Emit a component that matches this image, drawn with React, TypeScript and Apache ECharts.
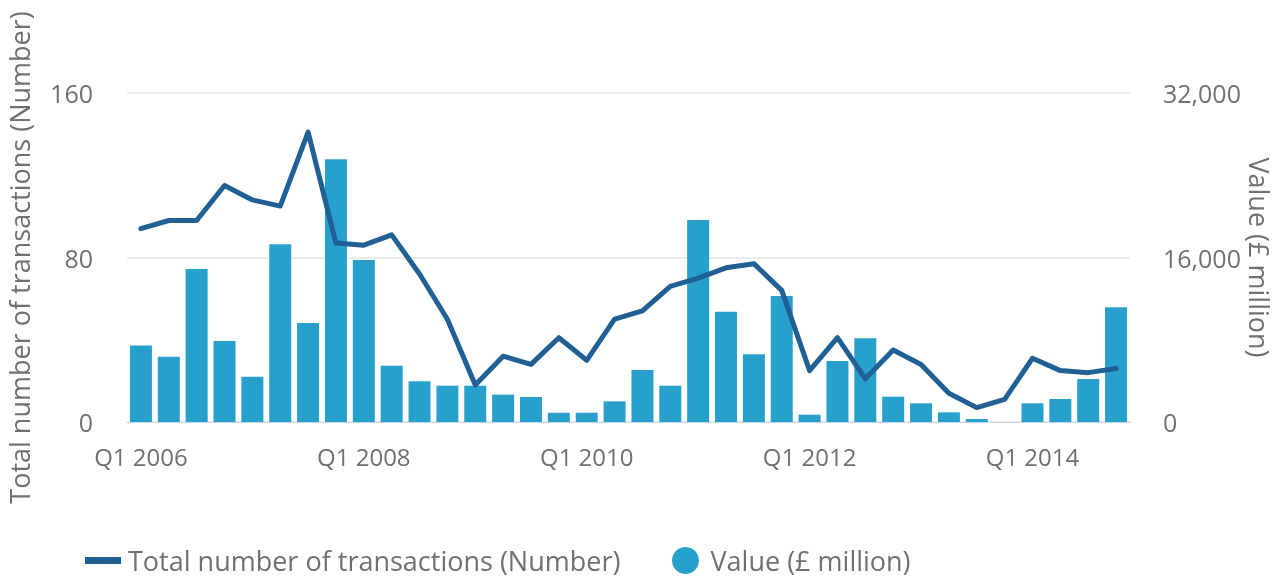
import React, { useEffect, useRef } from "react";
import * as echarts from "echarts";

const categories = [
  "Q1 2006", "Q2 2006", "Q3 2006", "Q4 2006",
  "Q1 2007", "Q2 2007", "Q3 2007", "Q4 2007",
  "Q1 2008", "Q2 2008", "Q3 2008", "Q4 2008",
  "Q1 2009", "Q2 2009", "Q3 2009", "Q4 2009",
  "Q1 2010", "Q2 2010", "Q3 2010", "Q4 2010",
  "Q1 2011", "Q2 2011", "Q3 2011", "Q4 2011",
  "Q1 2012", "Q2 2012", "Q3 2012", "Q4 2012",
  "Q1 2013", "Q2 2013", "Q3 2013", "Q4 2013",
  "Q1 2014", "Q2 2014", "Q3 2014", "Q4 2014",
];

// Total number of transactions (left axis)
const transactions = [
  94, 98, 98, 115, 108, 105, 141, 87,
  86, 91, 72, 50, 18, 32, 28, 41,
  30, 50, 54, 66, 70, 75, 77, 64,
  25, 41, 21, 35, 28, 14, 7, 11,
  31, 25, 24, 26,
];

// Value (£ million) (right axis)
const values = [
  7430, 6350, 14880, 7880, 4410, 17280, 9630, 25550,
  15760, 5480, 3960, 3530, 3530, 2660, 2430, 900,
  900, 2010, 5060, 3530, 19650, 10730, 6580, 12250,
  710, 5930, 8140, 2460, 1820, 940, 290, 0,
  1820, 2240, 4180, 11150,
];

const leftTicks = { min: 0, max: 160, interval: 80 };
const rightTicks = { min: 0, max: 32000, interval: 16000 };

const LINE_NAME = "Total number of transactions (Number)";
const BAR_NAME = "Value (£ million)";

const FONT = "'Open Sans', 'Noto Sans', sans-serif";
const TEXT = "#707070";

export default function App() {
  const ref = useRef<HTMLDivElement>(null);

  useEffect(() => {
    if (!ref.current) return;
    const chart = echarts.init(ref.current, undefined, { renderer: "svg" });
    chart.setOption({
      animation: false,
      textStyle: { fontFamily: FONT },
      grid: {
        left: 127,
        right: 150,
        top: 93,
        height: 329,
        containLabel: false,
        outerBoundsMode: "none",
      },
      legend: [
        {
          left: 80,
          top: 542,
          data: [{ name: LINE_NAME, icon: "path://M0,0 L36,0 L36,7 L0,7 Z" }],
          itemWidth: 36,
          itemHeight: 27,
          textStyle: { fontSize: 27, color: TEXT, fontFamily: FONT, padding: [0, 0, 0, 2] },
        },
        {
          left: 667,
          top: 542,
          data: [{ name: BAR_NAME, icon: "circle" }],
          itemWidth: 28,
          itemHeight: 27,
          textStyle: { fontSize: 27, color: TEXT, fontFamily: FONT, padding: [0, 0, 0, 6] },
        },
      ],
      xAxis: {
        type: "category",
        data: categories,
        boundaryGap: true,
        axisLine: { lineStyle: { color: "#ccd6eb", width: 1 } },
        axisTick: {
          alignWithLabel: true,
          interval: 7,
          length: 20,
          lineStyle: { color: "#ccd6eb", width: 1 },
        },
        axisLabel: {
          interval: 7,
          fontSize: 24,
          color: TEXT,
          fontFamily: FONT,
          margin: 22,
        },
        splitLine: { show: false },
      },
      yAxis: [
        {
          type: "value",
          position: "left",
          ...leftTicks,
          name: LINE_NAME,
          nameLocation: "middle",
          nameGap: 94,
          nameTextStyle: { fontSize: 27, color: TEXT, fontFamily: FONT },
          axisLine: { show: false },
          axisTick: { show: false },
          axisLabel: { fontSize: 25, color: TEXT, fontFamily: FONT, margin: 34 },
          splitLine: { lineStyle: { color: "#e6e6e6", width: 1.5 } },
        },
        {
          type: "value",
          position: "right",
          ...rightTicks,
          name: BAR_NAME,
          nameLocation: "middle",
          nameRotate: -90,
          nameGap: 116,
          nameMoveOverlap: false,
          nameTextStyle: { fontSize: 27, color: TEXT, fontFamily: FONT },
          axisLine: { show: false },
          axisTick: { show: false },
          axisLabel: { fontSize: 25, color: TEXT, fontFamily: FONT, margin: 33 },
          splitLine: { show: false },
        },
      ],
      series: [
        {
          name: BAR_NAME,
          type: "bar",
          yAxisIndex: 1,
          data: values,
          barWidth: 22,
          itemStyle: { color: "#27a0cc" },
          z: 2,
        },
        {
          name: LINE_NAME,
          type: "line",
          yAxisIndex: 0,
          data: transactions,
          symbol: "none",
          lineStyle: { color: "#206095", width: 5, cap: "round", join: "round" },
          itemStyle: { color: "#206095" },
          z: 3,
        },
      ],
    });
    return () => chart.dispose();
  }, []);

  return (
    <div
      ref={ref}
      style={{ position: "fixed", left: 0, top: 0, width: 1280, height: 578 }}
    />
  );
}
